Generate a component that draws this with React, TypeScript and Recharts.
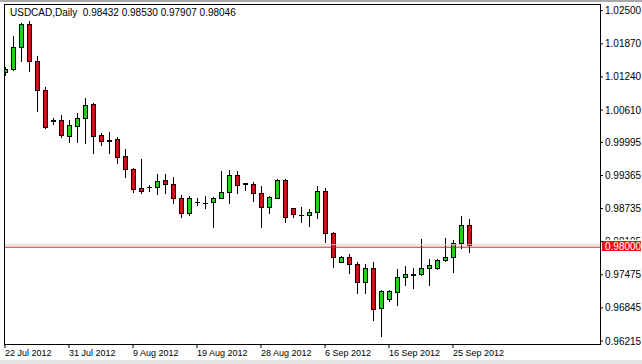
import { ComposedChart, Bar, XAxis, YAxis, ReferenceLine } from "recharts";

// USDCAD daily candles, 22 Jul - 27 Sep 2012 (MT4 style, Sunday bars included)
const dates = [
  "2012-07-22", "2012-07-23", "2012-07-24", "2012-07-25", "2012-07-26", "2012-07-27",
  "2012-07-29", "2012-07-30", "2012-07-31", "2012-08-01", "2012-08-02", "2012-08-03",
  "2012-08-05", "2012-08-06", "2012-08-07", "2012-08-08", "2012-08-09", "2012-08-10",
  "2012-08-12", "2012-08-13", "2012-08-14", "2012-08-15", "2012-08-16", "2012-08-17",
  "2012-08-19", "2012-08-20", "2012-08-21", "2012-08-22", "2012-08-23", "2012-08-24",
  "2012-08-26", "2012-08-27", "2012-08-28", "2012-08-29", "2012-08-30", "2012-08-31",
  "2012-09-02", "2012-09-03", "2012-09-04", "2012-09-05", "2012-09-06", "2012-09-07",
  "2012-09-09", "2012-09-10", "2012-09-11", "2012-09-12", "2012-09-13", "2012-09-14",
  "2012-09-16", "2012-09-17", "2012-09-18", "2012-09-19", "2012-09-20", "2012-09-21",
  "2012-09-23", "2012-09-24", "2012-09-25", "2012-09-26", "2012-09-27",
];

const opens = [
  1.01334, 1.01391, 1.0181, 1.02248, 1.01543, 1.00992, 1.00405, 1.00421, 1.00116, 1.00306,
  1.00459, 1.00725, 1.00135, 1.0004, 1.00059, 0.99736, 0.99488, 0.99127, 0.99146, 0.99146,
  0.99279, 0.99203, 0.98936, 0.98651, 0.9886, 0.9885, 0.98854, 0.98942, 0.99045, 0.99368,
  0.99216, 0.99197, 0.99026, 0.98771, 0.98942, 0.99279, 0.9874, 0.98607, 0.98607, 0.98664,
  0.9907, 0.98265, 0.97724, 0.97808, 0.97675, 0.97332, 0.97598, 0.96837, 0.97009, 0.97153,
  0.97439, 0.9748, 0.97484, 0.97598, 0.97598, 0.97751, 0.97808, 0.98074, 0.98432,
];

const highs = [
  1.01429, 1.02019, 1.02267, 1.02305, 1.01639, 1.01049, 1.00459, 1.00516, 1.00421, 1.00554,
  1.00839, 1.00744, 1.00173, 1.00192, 1.00097, 0.99869, 0.99507, 0.99678, 0.99184, 0.99393,
  0.99393, 0.99336, 0.98993, 0.98974, 0.98936, 0.98974, 0.9895, 0.9945, 0.99469, 0.99456,
  0.99228, 0.99241, 0.99165, 0.9898, 0.99298, 0.99292, 0.98745, 0.98759, 0.98727, 0.99165,
  0.99121, 0.98295, 0.97833, 0.97871, 0.97724, 0.9768, 0.97724, 0.97186, 0.97186, 0.97585,
  0.97642, 0.97598, 0.98156, 0.97781, 0.97781, 0.98169, 0.98137, 0.98594, 0.9853,
];

const lows = [
  1.01277, 1.01372, 1.01543, 1.01353, 1.00592, 1.00268, 1.00345, 1.00097, 1.00002, 1.00002,
  0.99983, 0.99793, 0.99945, 0.99793, 0.99602, 0.99336, 0.9905, 0.99031, 0.9907, 0.99012,
  0.99031, 0.98841, 0.98575, 0.98613, 0.98803, 0.98746, 0.9839, 0.9893, 0.98835, 0.99026,
  0.99089, 0.98885, 0.9839, 0.98645, 0.9893, 0.98485, 0.98569, 0.98485, 0.98409, 0.9855,
  0.98099, 0.97629, 0.97718, 0.97515, 0.97123, 0.97134, 0.96615, 0.96316, 0.96982, 0.969,
  0.97281, 0.97229, 0.9747, 0.97281, 0.9759, 0.97745, 0.97534, 0.97979, 0.97907,
];

const closes = [
  1.01391, 1.0181, 1.02248, 1.01543, 1.00992, 1.00287, 1.00415, 1.00135, 1.00325, 1.00459,
  1.00706, 1.00116, 1.00021, 1.0003, 0.99717, 0.99488, 0.99108, 0.9907, 0.9915, 0.9926,
  0.99203, 0.98936, 0.98651, 0.98936, 0.98866, 0.98847, 0.98942, 0.99045, 0.99368, 0.99178,
  0.9921, 0.99026, 0.98771, 0.9895, 0.99279, 0.9858, 0.98626, 0.98607, 0.98664, 0.9907,
  0.98265, 0.97819, 0.97819, 0.97675, 0.97332, 0.97598, 0.96818, 0.97167, 0.97167, 0.97439,
  0.97484, 0.97484, 0.97598, 0.97656, 0.97756, 0.97808, 0.98074, 0.98422, 0.98046,
];

const dateTicks = [0, 8, 16, 24, 32, 40, 48, 56];
const dateTickLabels = [
  "22 Jul 2012", "31 Jul 2012", "9 Aug 2012", "19 Aug 2012",
  "28 Aug 2012", "6 Sep 2012", "16 Sep 2012", "25 Sep 2012",
];
const priceTicks = [
  0.96215, 0.96845, 0.97475, 0.98105, 0.98735, 0.99365, 0.99995, 1.0061, 1.0124, 1.0187, 1.025,
];
const bidPrice = 0.98;
const askPrice = 0.98046;
const title = "USDCAD,Daily  0.98432 0.98530 0.97907 0.98046";

const rows = dates.map((date, i) => ({
  i,
  date,
  open: opens[i],
  high: highs[i],
  low: lows[i],
  close: closes[i],
  range: [lows[i], highs[i]],
}));

const FONT = "'Liberation Sans', Arial, sans-serif";

function Candle(props: any) {
  const { x, y, width, height, payload } = props;
  if (x == null || y == null) return null;
  const cx = Math.round(x + width / 2);
  const top = Math.min(y, y + height);
  const h = Math.abs(height);
  const span = payload.high - payload.low || 1;
  const py = (p: number) => top + ((payload.high - p) / span) * h;
  const yo = Math.round(py(payload.open));
  const yc = Math.round(py(payload.close));
  const yh = Math.round(top);
  const yl = Math.round(top + h);
  const bodyTop = Math.min(yo, yc);
  const bodyH = Math.abs(yo - yc);
  const fill = payload.close > payload.open ? "#1ed41e" : "#d01414";
  return (
    <g>
      <line x1={cx + 0.5} x2={cx + 0.5} y1={yh} y2={yl + 1} stroke="#000" strokeWidth={1} />
      {bodyH < 1 ? (
        <line x1={cx - 2} x2={cx + 3} y1={bodyTop + 0.5} y2={bodyTop + 0.5} stroke="#000" strokeWidth={1} />
      ) : (
        <rect x={cx - 1.5} y={bodyTop + 0.5} width={4} height={bodyH} fill={fill} stroke="#000" strokeWidth={1} />
      )}
    </g>
  );
}

function DateTick(props: any) {
  const { x, y, payload } = props;
  const idx = dateTicks.indexOf(payload.value);
  return (
    <text x={x} y={y} dy="0.71em" textAnchor="start" fontSize={9} fontFamily={FONT} fill="#000">
      {dateTickLabels[idx]}
    </text>
  );
}

function PriceTick(props: any) {
  const { x, y, payload } = props;
  const label = Number(payload.value).toFixed(5);
  // the tick right above the bid is mostly covered by the bid label, as in MT4
  if (Math.abs(payload.value - bidPrice) < 0.0015) {
    return (
      <g>
        <defs>
          <clipPath id="underBid">
            <rect x={x - 4} y={y - 10} width={50} height={8} />
          </clipPath>
        </defs>
        <text x={x} y={y} dy="0.35em" textAnchor="start" fontSize={10} fontFamily={FONT} fill="#000" clipPath="url(#underBid)">
          {label}
        </text>
      </g>
    );
  }
  return (
    <text x={x} y={y} dy="0.35em" textAnchor="start" fontSize={10} fontFamily={FONT} fill="#000">
      {label}
    </text>
  );
}

function BidLabel(props: any) {
  const vb = props.viewBox;
  if (!vb) return null;
  const lx = vb.x + vb.width + 2;
  const ly = Math.round(vb.y);
  return (
    <g>
      <rect x={lx} y={ly - 6} width={39} height={10} fill="#ee1111" />
      <text x={lx + 3} y={ly - 1} dy="0.35em" fontSize={10} fontFamily={FONT} fill="#fff">
        {bidPrice.toFixed(5)}
      </text>
    </g>
  );
}

export default function App() {
  return (
    <div
      style={{
        position: "absolute",
        left: 0,
        top: 0,
        width: 642,
        height: 364,
        background: "#fff",
        overflow: "hidden",
      }}
    >
      <div style={{ position: "absolute", left: 0, top: 0, width: 642, height: 2, background: "#a8a8a8" }} />
      <div style={{ position: "absolute", left: 0, top: 360, width: 642, height: 4, background: "#e4e4e4" }} />
      <ComposedChart
        width={642}
        height={364}
        data={rows}
        margin={{ top: 4, right: 0, bottom: 0, left: 4 }}
      >
        <XAxis
          type="number"
          dataKey="i"
          domain={[-0.125, 74.375]}
          ticks={dateTicks}
          interval={0}
          height={20}
          axisLine={false}
          tickLine={{ stroke: "#000" }}
          tickSize={4}
          tickMargin={2}
          tick={<DateTick />}
          allowDataOverflow
        />
        <YAxis
          orientation="right"
          domain={[0.96158, 1.02628]}
          ticks={priceTicks}
          interval={0}
          width={42}
          axisLine={false}
          tickLine={{ stroke: "#000" }}
          tickSize={3}
          tickMargin={2}
          tick={<PriceTick />}
          allowDataOverflow
        />
        <ReferenceLine y={askPrice} stroke="#f2c4bc" strokeWidth={1} />
        <ReferenceLine y={bidPrice} stroke="#c42a2a" strokeWidth={1} label={<BidLabel />} />
        <Bar dataKey="range" barSize={5} shape={<Candle />} isAnimationActive={false} />
      </ComposedChart>
      <div
        style={{
          position: "absolute",
          left: 4,
          top: 4,
          width: 597,
          height: 341,
          boxSizing: "border-box",
          border: "1px solid #000",
          pointerEvents: "none",
        }}
      />
      <div
        style={{
          position: "absolute",
          left: 10,
          top: 7,
          fontFamily: FONT,
          fontSize: 10,
          lineHeight: "12px",
          whiteSpace: "pre",
          color: "#000",
        }}
      >
        {title}
      </div>
    </div>
  );
}
